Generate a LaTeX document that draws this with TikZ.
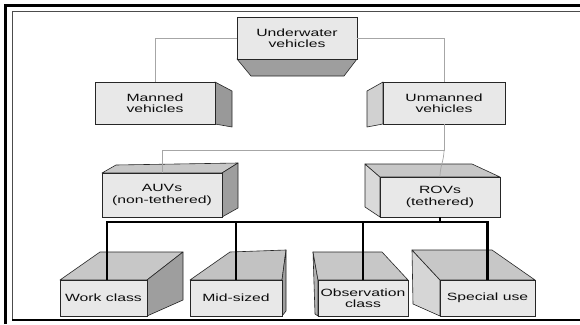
\documentclass[tikz,border=0pt]{standalone}
\usepackage{fontspec}
\newfontfamily\boxfont{Liberation Sans}[FakeStretch=1.5]
\usetikzlibrary{calc}
\begin{document}
\begin{tikzpicture}[x=1pt,y=-1pt,
  front/.style={draw=black!85, line width=0.6pt, fill=black!9, inner sep=0pt, align=center,
    font=\boxfont\fontsize{10.5}{11.5}\selectfont, text=black!95},
  face/.style={draw=black!85, line width=0.6pt, line join=round},
  conn/.style={draw=black!35, line width=0.7pt},
  bus/.style={draw=black, line width=2.6pt},
]
\useasboundingbox (0,0) rectangle (580,324);
\fill[white] (0,0) rectangle (580,324);
% frame
\draw[black, line width=2.6pt] (5.5,324) -- (5.5,5.5) -- (580,5.5);
\draw[black!70, line width=1pt] (12.5,319) -- (12.5,11.5) -- (580,11.5);
\draw[black, line width=2pt] (12,319.5) -- (580,319.5);

% Underwater vehicles
\filldraw[face, fill=black!38] (237,59) -- (357,59) -- (344,76) -- (251,76) -- cycle;
\node[front, minimum width=120pt, minimum height=42pt] (uw) at (297,38) {Underwater\\vehicles};

% Manned
\filldraw[face, fill=black!40] (215,82) -- (232,91) -- (232,127) -- (215,124) -- cycle;
\node[front, minimum width=120pt, minimum height=42pt] (man) at (155,103) {Manned\\vehicles};

% Unmanned
\filldraw[face, fill=black!18] (383,82) -- (367,91) -- (367,127) -- (383,124) -- cycle;
\node[front, minimum width=122pt, minimum height=42pt] (unm) at (444,103) {Unmanned\\vehicles};

% AUVs
\filldraw[face, fill=black!22] (102,173) -- (116,165) -- (238,163) -- (222,173) -- cycle;
\filldraw[face, fill=black!38] (222,173) -- (238,163) -- (238,208) -- (222,217) -- cycle;
\node[front, minimum width=120pt, minimum height=44pt] (auv) at (162,195) {AUVs\\(non-tethered)};

% ROVs
\filldraw[face, fill=black!15] (365,164) -- (380,177) -- (380,217) -- (365,207) -- cycle;
\filldraw[face, fill=black!22] (365,164) -- (472,164) -- (500,177) -- (380,177) -- cycle;
\node[front, minimum width=120pt, minimum height=40pt] (rov) at (440,197) {ROVs\\(tethered)};

% Work class
\filldraw[face, fill=black!22] (60,280) -- (100,252) -- (183,252) -- (147,280) -- cycle;
\filldraw[face, fill=black!38] (147,280) -- (183,252) -- (183,300) -- (147,316) -- cycle;
\node[front, minimum width=87pt, minimum height=36pt] (wc) at (103.5,298) {Work class};

% Mid-sized
\filldraw[face, fill=black!24] (190,280) -- (230,252) -- (286,250) -- (282,280) -- cycle;
\filldraw[face, fill=black!38] (282,280) -- (286,250) -- (286,311) -- (282,316) -- cycle;
\node[front, minimum width=92pt, minimum height=36pt] (ms) at (236,298) {Mid-sized};

% Observation class
\filldraw[face, fill=black!30] (313,252) -- (318,280) -- (318,316) -- (315,314) -- cycle;
\filldraw[face, fill=black!22] (313,252) -- (382,252) -- (408,280) -- (318,280) -- cycle;
\node[front, minimum width=90pt, minimum height=36pt] (ob) at (363,298) {Observation\\class};

% Special use
\filldraw[face, fill=black!16] (412,250) -- (440,280) -- (440,316) -- (413,304) -- cycle;
\filldraw[face, fill=black!22] (412,250) -- (492,250) -- (535,280) -- (440,280) -- cycle;
\node[front, minimum width=95pt, minimum height=36pt] (sp) at (487.5,298) {Special use};

% connectors
\coordinate (jn) at (444,150);
\coordinate (bus) at (0,222);
\draw[conn] (uw.west) -| (man.north);
\draw[conn] (uw.east) -| (unm.north);
\draw[conn] (unm.south) -- (jn) -| (auv.north);
\draw[conn] (jn) to[out=-90,in=90] (rov.north);

\draw[bus] (rov.south) -- (rov.south |- bus);
\draw[bus, line join=miter] ($(wc.north)+(3.5,0)$) -- ($(wc.north |- bus)+(3.5,0)$) -- (sp.north |- bus) -- (sp.north);
\draw[bus] (ms.north |- bus) -- (ms.north);
\draw[bus] (ob.north |- bus) -- (ob.north);
\end{tikzpicture}
\end{document}
